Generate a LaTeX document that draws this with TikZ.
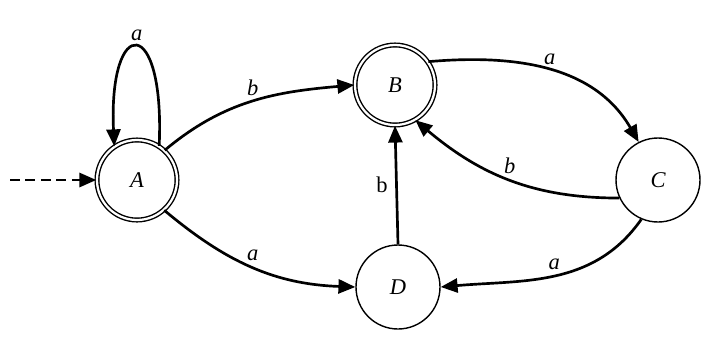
\documentclass[tikz,border=0pt]{standalone}
\usepackage{fontspec}
\setmainfont{Liberation Serif}
\usetikzlibrary{arrows.meta}
\begin{document}
\begin{tikzpicture}[
    state/.style={draw, circle, line width=1pt, minimum size=2.1cm, inner sep=0pt,
      font=\itshape\fontsize{16}{19}\selectfont},
    accept/.style={state, double, double distance=1.6pt, minimum size=2.0cm},
    trans/.style={line width=1.9pt, -{Triangle[length=12pt,width=10pt]}},
    lbl/.style={font=\itshape\fontsize{16}{19}\selectfont}
  ]
        \useasboundingbox (0,0) rectangle (17.525,8.475);

        \node[accept] (A) at (3.425,3.975) {A};
        \node[accept] (B) at (9.875,6.35) {B};
        \node[state] (C) at (16.45,3.975) {C};
        \node[state] (D) at (9.95,1.3) {D};
        \coordinate (start) at (0.25,3.975);

        % start arrow
        \draw[trans, dash pattern=on 7pt off 4pt] (start) -- (A.west);

        % loop on A
        \draw[trans] (A.57) .. controls +(0.15,3.3) and +(-0.15,3.3) .. (A.124)
            node[lbl, pos=0.5, above] {a};

        \draw[trans] (A.47) to[out=40, in=185] node[lbl, above] {b} (B.west);
        \draw[trans] (A.-48) to[out=-40, in=178] node[lbl, above] {a} (D.west);
        \draw[trans] (B.35) to[out=5, in=120] node[lbl, above] {a} (C.117);
        \draw[trans] (C.205) to[out=180, in=-40] node[lbl, above] {b} (B.-60);
        \draw[trans] (D.north) -- node[lbl, left, xshift=-2pt] {\upshape b} (B.south);
        \draw[trans] (C.247) to[out=235, in=5] node[lbl, above] {a} (D.east);
    \end{tikzpicture}
\end{document}
